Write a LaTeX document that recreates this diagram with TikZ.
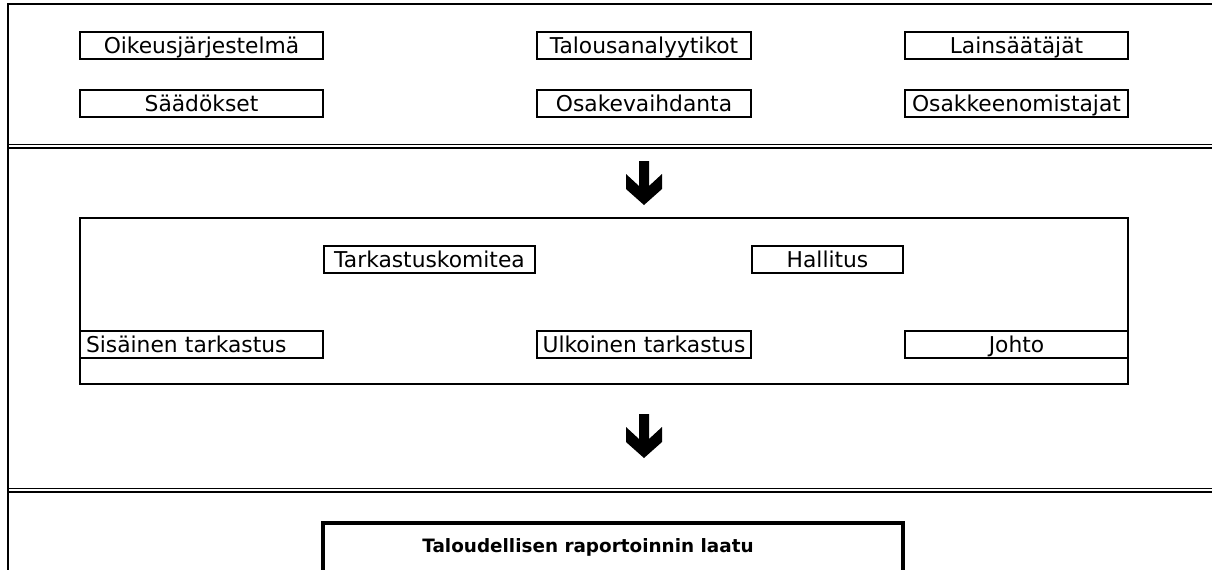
\documentclass[tikz,border=0pt]{standalone}
\usepackage{fontspec}
\setmainfont{DejaVu Sans}
\usetikzlibrary{positioning}
\tikzset{
  box/.style={draw=black, line width=1pt, minimum height=13.5pt, inner sep=0pt, text height=10pt, text depth=2pt, align=center, font=\fontsize{10.9}{13}\selectfont},
  leftbox/.style={box, inner xsep=3pt, text width=#1, align=left},
  outerline/.style={draw=black, line width=1pt},
  septhin/.style={line width=0.7pt},
  septhick/.style={line width=1pt},
  qualitybox/.style={draw=black, line width=2.2pt, minimum width=290pt, minimum height=100pt, anchor=north},
  blockarrow/.pic={\fill (-5,0) -- (5,0) -- (5,25) -- (18,13) -- (18,28) -- (0,44) -- (-18,28) -- (-18,13) -- (-5,25) -- cycle;}
}
\begin{document}
\begin{tikzpicture}[x=0.5pt, y=-0.5pt]
\useasboundingbox (0,0) rectangle (1212,569);
\clip (0,0) rectangle (1212,569);
% outer frame and section separators
\draw[outerline] (8.3,700) -- (8.3,3.7) -- (1300,3.7);
\draw[septhin] (8,144.5) -- (1300,144.5);
\draw[septhick] (8,148) -- (1300,148);
\draw[septhin] (8,488.5) -- (1300,488.5);
\draw[septhick] (8,492) -- (1300,492);
% external parties
\node[box, minimum width=121.5pt] (oikeus) at (201.5,45) {Oikeusjärjestelmä};
\node[box, minimum width=107pt] (analyytikot) at (644,45) {Talousanalyytikot};
\node[box, minimum width=111.5pt] (lainsaatajat) at (1016.5,45) {Lainsäätäjät};
\node[box, minimum width=121.5pt, below=14.5pt of oikeus] (saadokset) {Säädökset};
\node[box, minimum width=107pt, below=14.5pt of analyytikot] (vaihdanta) {Osakevaihdanta};
\node[box, minimum width=111.5pt, below=14.5pt of lainsaatajat] (omistajat) {Osakkeenomistajat};
\pic at (644,161) {blockarrow};
% corporate governance
\node[outerline, minimum width=524pt, minimum height=83pt] (hallinto) at (604,301) {};
\node[box, minimum width=105.5pt] (komitea) at (429.5,259) {Tarkastuskomitea};
\node[box, minimum width=75.5pt] (hallitus) at (827.5,259) {Hallitus};
\node[leftbox=115.5pt] (sisainen) at (201.5,344) {Sisäinen tarkastus};
\node[box, minimum width=107pt] (ulkoinen) at (644,344) {Ulkoinen tarkastus};
\node[box, minimum width=111.5pt] (johto) at (1016.5,344) {Johto};
\pic at (644,414) {blockarrow};
% result
\node[qualitybox] (laatu) at (613,521) {};
\node[font=\fontsize{9.2}{11}\selectfont\bfseries] (laatuteksti) at (588,547) {Taloudellisen raportoinnin laatu};
\end{tikzpicture}
\end{document}
